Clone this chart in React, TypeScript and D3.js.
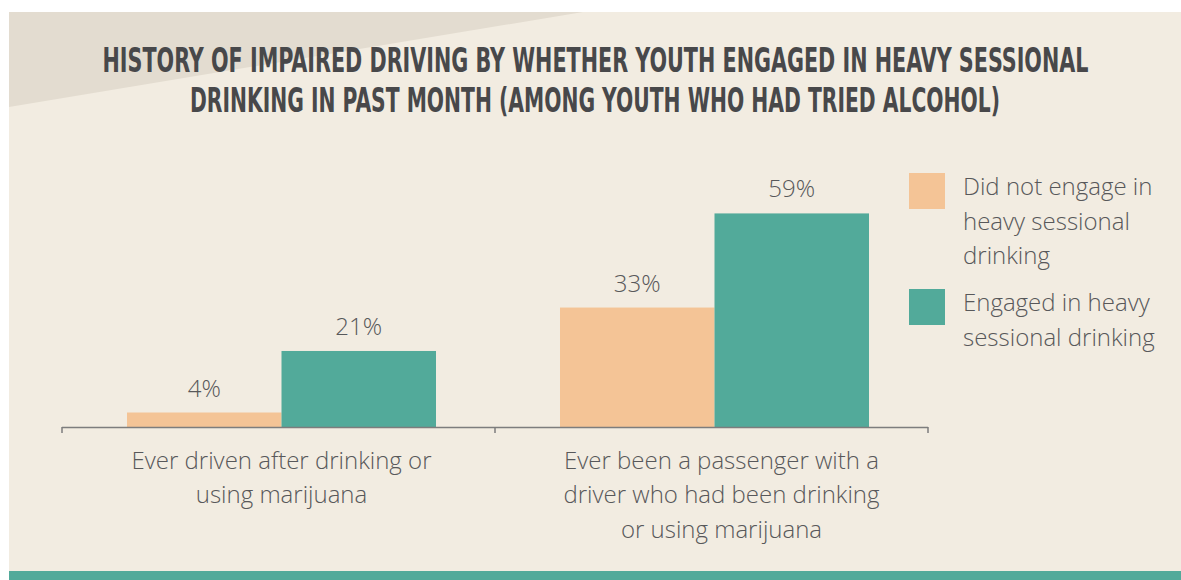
import React from "react";
import * as d3 from "d3";

const categories = ["Ever driven after drinking or using marijuana", "Ever been a passenger with a driver who had been drinking or using marijuana"];
const categoryLines = [
  ["Ever driven after drinking or", "using marijuana"],
  ["Ever been a passenger with a", "driver who had been drinking", "or using marijuana"],
];
const seriesNames = ["Did not engage in heavy sessional drinking", "Engaged in heavy sessional drinking"];
const legendLines = [
  ["Did not engage in", "heavy sessional", "drinking"],
  ["Engaged in heavy", "sessional drinking"],
];
const notEngaged = [4, 33];
const engaged = [21, 59];
const titleLines = [
  "HISTORY OF IMPAIRED DRIVING BY WHETHER YOUTH ENGAGED IN HEAVY SESSIONAL",
  "DRINKING IN PAST MONTH (AMONG YOUTH WHO HAD TRIED ALCOHOL)",
];

const W = 1181;
const H = 580;
const COLORS = ["#f4c496", "#52aa9a"];
const BG = "#f2ece1";
const TRI = "#e3dcd0";
const TEXT = "#58585a";
const FONT = "'Open Sans', 'Noto Sans', sans-serif";

export default function App() {
  const x = d3.scaleBand<string>().domain(categories).range([62, 928]).paddingInner(0).paddingOuter(0);
  const xInner = d3.scaleBand<string>().domain(seriesNames).range([65, 374]).padding(0);
  const y = d3.scaleLinear().domain([0, 70]).range([427, 427 - 70 * 3.62]);
  const series = [notEngaged, engaged];
  const axisTicks = [...categories.map((c) => x(c)!), x(categories[categories.length - 1])! + x.bandwidth()];

  return (
    <svg width={W} height={H} style={{ position: "fixed", left: 0, top: 0, background: "#fff" }}>
      <rect x={9} y={12} width={W - 9} height={H - 12} fill={BG} />
      <path d={`M9,12 L583,12 L9,107 Z`} fill={TRI} />
      <rect x={9} y={571} width={W - 9} height={9} fill="#52aa9a" />

      {titleLines.map((t, i) => (
        <text
          key={i}
          x={i === 0 ? 102.5 : 190}
          y={i === 0 ? 72 : 112}
          textLength={i === 0 ? 986 : 810}
          lengthAdjust="spacingAndGlyphs"
          fontFamily="'Liberation Sans Narrow', 'DejaVu Sans Condensed', 'Roboto', sans-serif"
          fontWeight={700}
          fontSize={34}
          fill="#48484a"
        >
          {t}
        </text>
      ))}

      {series.map((vals, si) =>
        categories.map((c, ci) => {
          const bx = x(c)! + xInner(seriesNames[si])!;
          const bw = xInner.bandwidth();
          const v = vals[ci];
          return (
            <g key={`${si}-${ci}`}>
              <rect x={bx} y={y(v)} width={bw} height={y(0) - y(v)} fill={COLORS[si]} />
              <text x={bx + bw / 2} y={y(v) - 16} textAnchor="middle" fontFamily={FONT} fontWeight={300} fontSize={24} fill={TEXT}>
                {`${v}%`}
              </text>
            </g>
          );
        })
      )}

      <line x1={62} x2={928} y1={427.5} y2={427.5} stroke="#7d7d7d" strokeWidth={1.5} />
      {axisTicks.map((t, i) => (
        <line key={i} x1={t} x2={t} y1={427} y2={433} stroke="#7d7d7d" strokeWidth={1.5} />
      ))}

      {categories.map((c, ci) => (
        <text key={c} textAnchor="middle" fontFamily={FONT} fontWeight={300} fontSize={24} fill={TEXT}>
          {categoryLines[ci].map((ln, li) => (
            <tspan key={li} x={x(c)! + x.bandwidth() / 2 + (ci === 0 ? 3 : 10)} y={468.5 + li * 34.5}>
              {ln}
            </tspan>
          ))}
        </text>
      ))}

      {seriesNames.map((s, si) => {
        const top = si === 0 ? 173 : 289;
        return (
          <g key={s}>
            <rect x={909} y={top} width={36} height={36} fill={COLORS[si]} />
            <text fontFamily={FONT} fontWeight={300} fontSize={24} fill={TEXT}>
              {legendLines[si].map((ln, li) => (
                <tspan key={li} x={963} y={top + 22 + li * 34.7}>
                  {ln}
                </tspan>
              ))}
            </text>
          </g>
        );
      })}
    </svg>
  );
}
